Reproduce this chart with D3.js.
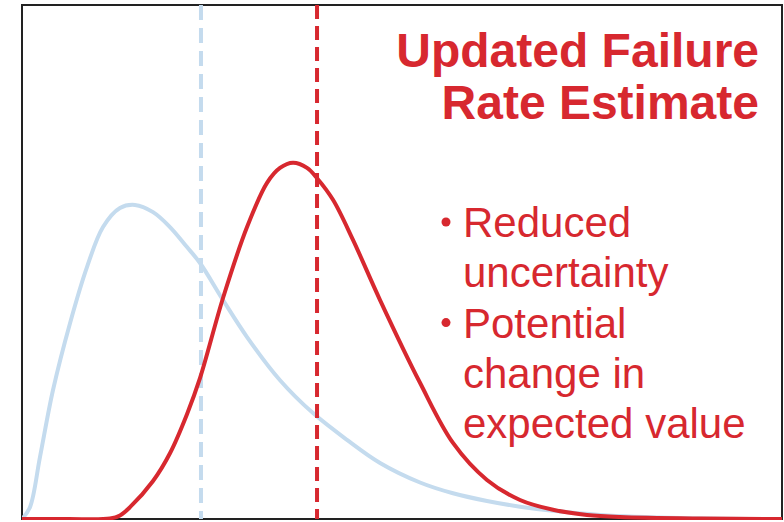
<!DOCTYPE html>
<html lang="en">
<head>
<script src="https://cdn.jsdelivr.net/npm/d3@7/dist/d3.min.js"></script>
<style>
html, body {
    margin: 0;
    padding: 0;
    background: #fff;
}
#chart {
    width: 784px;
    height: 522px;
}
text {
    font-family: "Liberation Sans", Arial, sans-serif;
}
</style>
</head>
<body>
<div id="chart"></div>
<script>
// prior (blue) and updated (red) failure-rate densities
var priorX = [0, 0.105, 0.237, 0.408, 0.632, 0.855, 1.066, 1.289, 1.487, 1.724, 1.947, 2.171, 2.342, 2.645, 2.961, 3.395, 3.829, 4.276, 4.711, 5.237, 5.671, 6.118, 6.553, 6.987, 7.605, 8.658, 10];
var priorY = [0, 0.023, 0.121, 0.251, 0.381, 0.490, 0.568, 0.605, 0.611, 0.597, 0.568, 0.529, 0.498, 0.426, 0.354, 0.270, 0.206, 0.154, 0.109, 0.071, 0.050, 0.035, 0.024, 0.016, 0.008, 0.002, 0];

var updatedX = [0, 0.6, 1.158, 1.289, 1.421, 1.724, 1.947, 2.171, 2.342, 2.645, 2.961, 3.224, 3.395, 3.566, 3.750, 3.882, 4.092, 4.355, 4.711, 5.237, 5.671, 6.118, 6.553, 6.987, 7.434, 7.868, 8.92, 10];
var updatedY = [0, 0, 0.001, 0.007, 0.023, 0.074, 0.128, 0.204, 0.274, 0.430, 0.568, 0.654, 0.683, 0.693, 0.683, 0.663, 0.621, 0.543, 0.426, 0.265, 0.148, 0.076, 0.037, 0.018, 0.008, 0.004, 0.001, 0];

// expected values (dashed lines)
var priorMean = 2.355;
var updatedMean = 3.882;

var titleLines = ["Updated Failure", "Rate Estimate"];
var bulletItems = [["Reduced", "uncertainty"], ["Potential", "change in", "expected value"]];

var blue = "#c4dbee";
var red = "#d7282f";

var width = 784, height = 522;
var svg = d3.select("#chart").append("svg")
    .attr("width", width)
    .attr("height", height);

var xScale = d3.scaleLinear().domain([0, 10]).range([22, 782]);
var yScale = d3.scaleLinear().domain([0, 1]).range([519, 5]);

// frame
svg.append("rect")
    .attr("x", xScale.range()[0])
    .attr("y", yScale.range()[1])
    .attr("width", xScale.range()[1] - xScale.range()[0])
    .attr("height", yScale.range()[0] - yScale.range()[1])
    .attr("fill", "none")
    .attr("stroke", "#222")
    .attr("stroke-width", 2);

var line = d3.line()
    .x(function(d){ return xScale(d[0]); })
    .y(function(d){ return yScale(d[1]); })
    .curve(d3.curveCatmullRom.alpha(0.5));

var prior = d3.zip(priorX, priorY);
var updated = d3.zip(updatedX, updatedY);

// keep curves inside the frame
svg.append("clipPath").attr("id", "plot")
    .append("rect")
    .attr("x", xScale.range()[0])
    .attr("y", 0)
    .attr("width", xScale.range()[1] - xScale.range()[0])
    .attr("height", yScale(0) + 1);

var plot = svg.append("g").attr("clip-path", "url(#plot)");

// mean lines
plot.append("line")
    .attr("x1", xScale(priorMean)).attr("x2", xScale(priorMean))
    .attr("y1", yScale(1)).attr("y2", yScale(0))
    .attr("stroke", blue)
    .attr("stroke-width", 4)
    .attr("stroke-dasharray", "15,8");

plot.append("path")
    .datum(prior)
    .attr("d", line)
    .attr("fill", "none")
    .attr("stroke", blue)
    .attr("stroke-width", 4);

plot.append("line")
    .attr("x1", xScale(updatedMean)).attr("x2", xScale(updatedMean))
    .attr("y1", yScale(1)).attr("y2", yScale(0))
    .attr("stroke", red)
    .attr("stroke-width", 4)
    .attr("stroke-dasharray", "14,7");

plot.append("path")
    .datum(updated)
    .attr("d", line)
    .attr("fill", "none")
    .attr("stroke", red)
    .attr("stroke-width", 4);

// title
svg.append("g").selectAll("text")
    .data(titleLines)
    .enter()
    .append("text")
    .attr("x", 759)
    .attr("y", function(d, i){ return 67 + i * 52; })
    .attr("text-anchor", "end")
    .attr("font-size", 48)
    .attr("font-weight", "bold")
    .attr("fill", red)
    .text(function(d){ return d; });

// bullets
var bulletLayer = svg.append("g");
var lineNo = 0;
bulletItems.forEach(function(item){
    bulletLayer.append("circle")
        .attr("cx", 446)
        .attr("cy", 222 + lineNo * 50.3)
        .attr("r", 4.5)
        .attr("fill", red);
    item.forEach(function(t){
        bulletLayer.append("text")
            .attr("x", 463)
            .attr("y", 237 + lineNo * 50.3)
            .attr("font-size", 42)
            .attr("fill", red)
            .text(t);
        lineNo++;
    });
});
</script>
</body>
</html>
